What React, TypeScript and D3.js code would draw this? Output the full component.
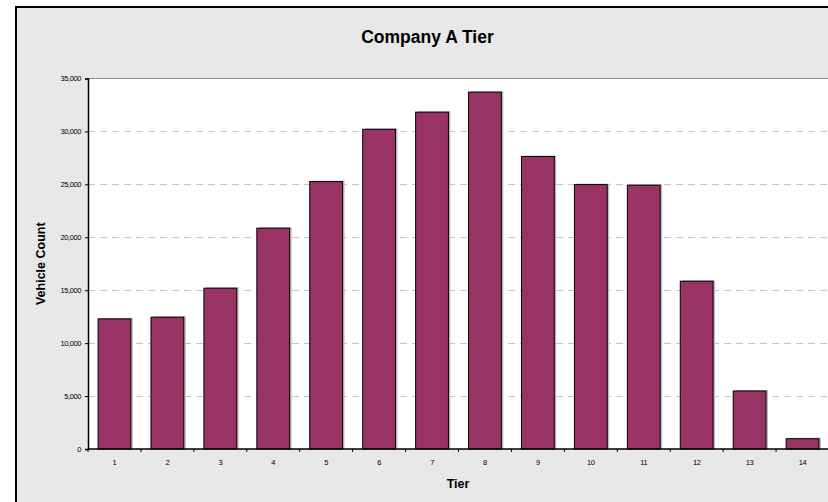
import React, { useEffect, useRef } from 'react';
import * as d3 from 'd3';

const tiers = ['1', '2', '3', '4', '5', '6', '7', '8', '9', '10', '11', '12', '13', '14'];
const vehicleCounts = [12290, 12450, 15190, 20860, 25260, 30200, 31820, 33710, 27630, 24980, 24920, 15850, 5480, 970];
const yTicks = [0, 5000, 10000, 15000, 20000, 25000, 30000, 35000];

const App: React.FC = () => {
  const ref = useRef<SVGSVGElement | null>(null);

  useEffect(() => {
    if (!ref.current) return;
    const width = 828;
    const height = 502;
    const margin = { top: 78.5, right: -1, bottom: 53, left: 88 };
    const font = 'Arial, "Liberation Sans", sans-serif';

    const svg = d3.select(ref.current);
    svg.selectAll('*').remove();

    // outer chart area (cropped on right and bottom)
    svg.append('rect')
      .attr('x', 16).attr('y', 7)
      .attr('width', 840).attr('height', 520)
      .attr('fill', '#e8e8e8')
      .attr('stroke', '#000')
      .attr('stroke-width', 2);

    const x = d3.scaleBand<string>()
      .domain(tiers)
      .range([margin.left, width - margin.right])
      .paddingInner(0.38)
      .paddingOuter(0.19);

    const y = d3.scaleLinear()
      .domain([0, 35000])
      .range([height - margin.bottom, margin.top]);

    // plot area
    svg.append('rect')
      .attr('x', margin.left).attr('y', margin.top)
      .attr('width', width - margin.left + 10)
      .attr('height', y(0) - margin.top)
      .attr('fill', '#fff');
    svg.append('line')
      .attr('x1', margin.left).attr('x2', width + 10)
      .attr('y1', margin.top).attr('y2', margin.top)
      .attr('stroke', '#8a8a8a');

    // gridlines
    svg.append('g')
      .selectAll('line')
      .data(yTicks.filter(t => t > 0 && t < 35000))
      .enter()
      .append('line')
      .attr('x1', margin.left)
      .attr('x2', width)
      .attr('y1', d => Math.round(y(d)) + 0.5)
      .attr('y2', d => Math.round(y(d)) + 0.5)
      .attr('stroke', '#c4c4c4')
      .attr('stroke-dasharray', '7,5');

    // bar shadows
    svg.append('g')
      .selectAll('rect')
      .data(vehicleCounts)
      .enter()
      .append('rect')
      .attr('x', (d, i) => (x(tiers[i]) || 0) + 2)
      .attr('y', d => y(d) - 1)
      .attr('width', x.bandwidth())
      .attr('height', d => y(0) - y(d) + 1)
      .attr('fill', '#bdbdbd');

    // bars
    svg.append('g')
      .selectAll('rect')
      .data(vehicleCounts)
      .enter()
      .append('rect')
      .attr('x', (d, i) => x(tiers[i]) || 0)
      .attr('y', d => y(d))
      .attr('width', x.bandwidth())
      .attr('height', d => y(0) - y(d))
      .attr('fill', '#993366')
      .attr('stroke', '#000')
      .attr('stroke-width', 1);

    // y axis
    const yAxis = d3.axisLeft(y)
      .tickValues(yTicks)
      .tickSize(3)
      .tickPadding(4)
      .tickFormat(d => d3.format(',')(d as number));

    const yg = svg.append('g')
      .attr('transform', `translate(${margin.left},0)`)
      .call(yAxis);
    yg.select('.domain').attr('stroke', '#000').attr('stroke-width', 1.5);
    yg.selectAll('line').attr('stroke', '#000');
    yg.selectAll('text')
      .attr('font-family', font)
      .attr('font-size', '7.5px')
      .attr('letter-spacing', '-0.4px')
      .attr('fill', '#000');

    // x axis baseline and ticks between categories
    svg.append('line')
      .attr('x1', margin.left).attr('x2', width + 10)
      .attr('y1', y(0)).attr('y2', y(0))
      .attr('stroke', '#000').attr('stroke-width', 1.5);

    const step = x.step();
    svg.append('g')
      .selectAll('line')
      .data(tiers)
      .enter()
      .append('line')
      .attr('x1', (d) => (x(d) || 0) - x.paddingOuter() * step)
      .attr('x2', (d) => (x(d) || 0) - x.paddingOuter() * step)
      .attr('y1', y(0))
      .attr('y2', y(0) + 3)
      .attr('stroke', '#000');

    svg.append('g')
      .selectAll('text')
      .data(tiers)
      .enter()
      .append('text')
      .attr('x', d => (x(d) || 0) + x.bandwidth() / 2)
      .attr('y', y(0) + 16)
      .attr('text-anchor', 'middle')
      .attr('font-family', font)
      .attr('font-size', '7.5px')
      .attr('letter-spacing', '-0.4px')
      .attr('fill', '#000')
      .text(d => d);

    // titles
    svg.append('text')
      .attr('x', 427.5)
      .attr('y', 43)
      .attr('text-anchor', 'middle')
      .attr('font-family', font)
      .attr('font-weight', 'bold')
      .attr('font-size', '17.5px')
      .attr('fill', '#000')
      .text('Company A Tier');

    svg.append('text')
      .attr('x', (margin.left + width) / 2)
      .attr('y', 488)
      .attr('text-anchor', 'middle')
      .attr('font-family', font)
      .attr('font-weight', 'bold')
      .attr('font-size', '12.5px')
      .attr('fill', '#000')
      .text('Tier');

    svg.append('text')
      .attr('transform', `translate(45,${(y(0) + margin.top) / 2}) rotate(-90)`)
      .attr('text-anchor', 'middle')
      .attr('font-family', font)
      .attr('font-weight', 'bold')
      .attr('font-size', '12.5px')
      .attr('fill', '#000')
      .text('Vehicle Count');
  }, []);

  return (
    <svg
      ref={ref}
      width={828}
      height={502}
      style={{ position: 'absolute', left: 0, top: 0, background: '#fff' }}
    />
  );
};

export default App;
